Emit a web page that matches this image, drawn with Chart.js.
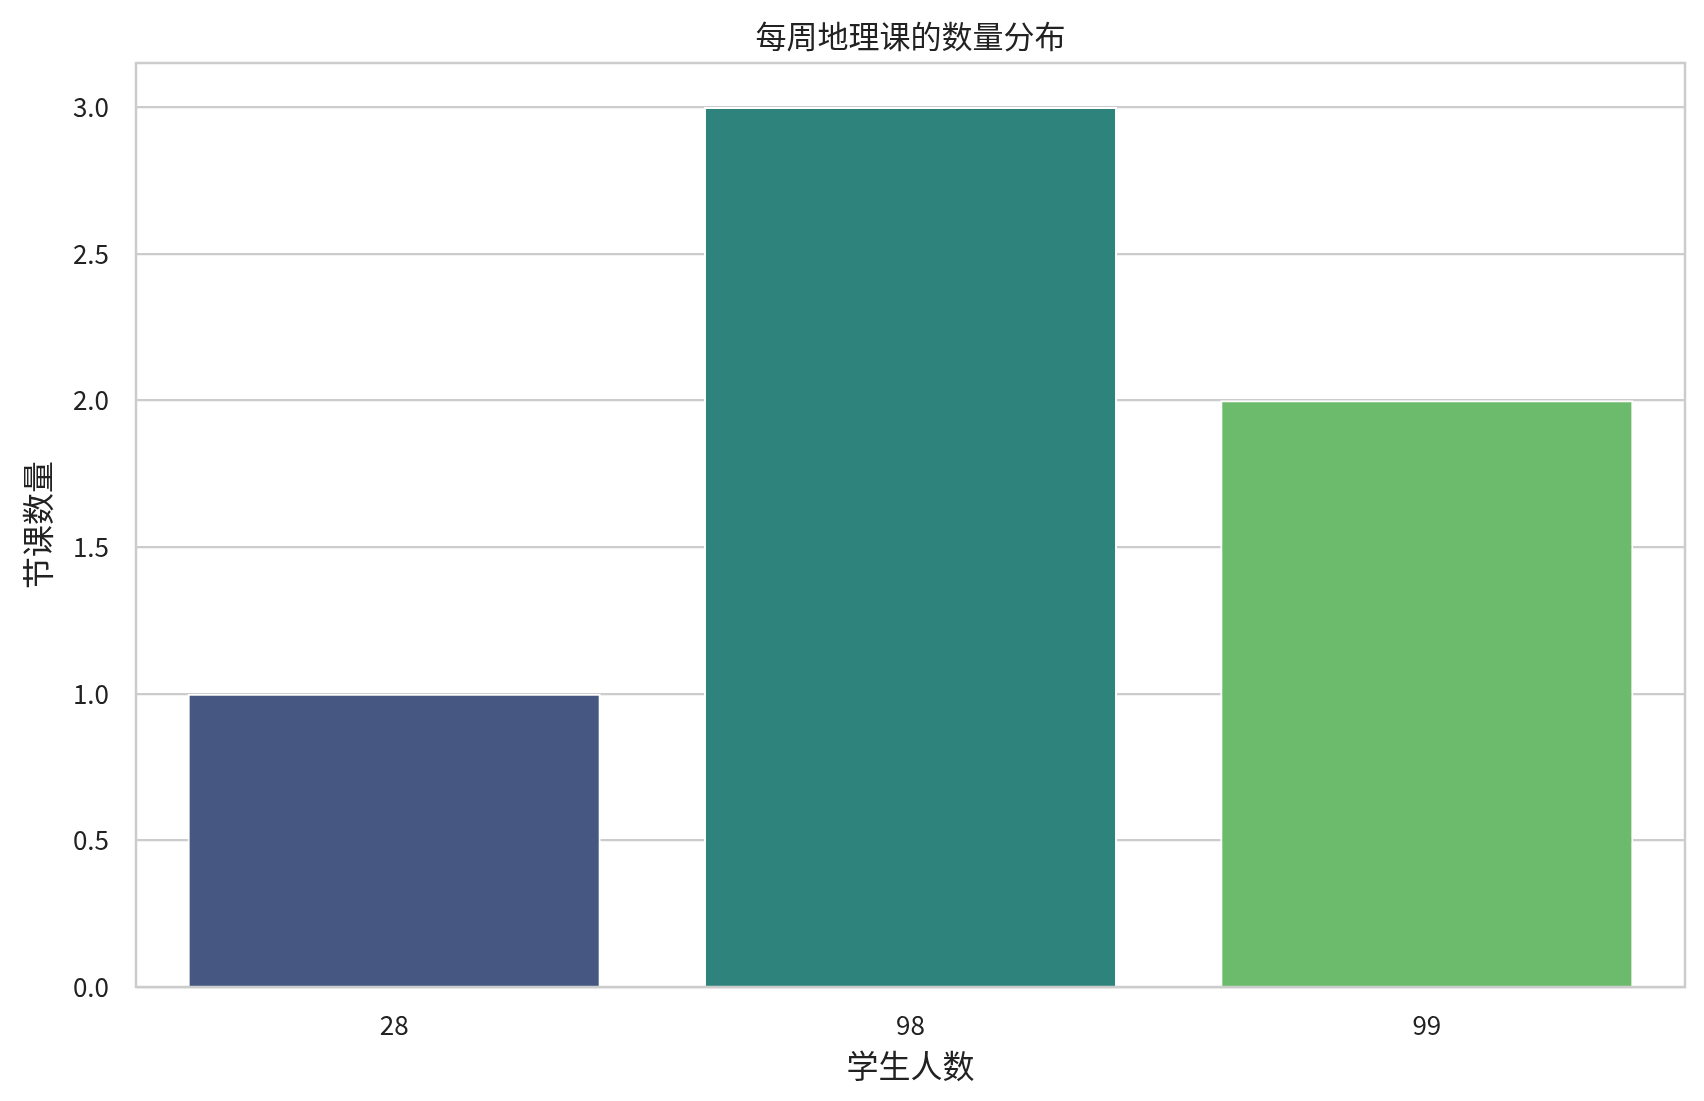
<!DOCTYPE html>
<html>
<head>
  <title>每周地理课的数量分布</title>
  <script src="https://cdn.jsdelivr.net/npm/chart.js"></script>
  <style>
    html, body { margin: 0; padding: 0; background: #fff; }
    #wrap { width: 1704px; height: 1101px; }
  </style>
</head>
<body>
  <div id="wrap"><canvas id="chart"></canvas></div>

  <script>
    // data
    const categories = ['28', '98', '99'];
    const lessonCounts = [1, 3, 2];
    const barColors = ['#465881', '#2e847d', '#6cbb6c'];
    const yTicks = [0, 0.5, 1.0, 1.5, 2.0, 2.5, 3.0];

    const cjk = '"Noto Sans CJK SC", "Noto Sans", sans-serif';

    // light grey box round the plot, like the seaborn spines
    const frame = {
      id: 'frame',
      afterDatasetsDraw(chart) {
        const a = chart.chartArea;
        const ctx = chart.ctx;
        ctx.save();
        ctx.strokeStyle = '#cccccc';
        ctx.lineWidth = 2.5;
        ctx.strokeRect(a.left, a.top, a.right - a.left, a.bottom - a.top);
        ctx.restore();
      }
    };

    new Chart(document.getElementById('chart'), {
      type: 'bar',
      data: {
        labels: categories,
        datasets: [{
          label: '节课数量',
          data: lessonCounts,
          backgroundColor: barColors,
          borderColor: '#ffffff',
          borderWidth: 2,
          borderSkipped: 'bottom',
          categoryPercentage: 0.8,
          barPercentage: 1.0
        }]
      },
      options: {
        responsive: true,
        maintainAspectRatio: false,
        animation: false,
        layout: { padding: { left: 0, right: 19, top: 0, bottom: 0 } },
        plugins: {
          legend: { display: false },
          tooltip: { enabled: false },
          title: {
            display: true,
            fullSize: false,
            text: '每周地理课的数量分布',
            color: '#222222',
            font: { family: cjk, size: 31, weight: 'normal', lineHeight: 1 },
            padding: { top: 21, bottom: 11 }
          }
        },
        scales: {
          x: {
            grid: { display: false, drawTicks: false },
            border: { display: false },
            ticks: {
              color: '#222222',
              padding: 23,
              font: { family: cjk, size: 26 }
            },
            title: {
              display: true,
              text: '学生人数',
              color: '#222222',
              font: { family: cjk, size: 32, lineHeight: 1 },
              padding: { top: 0, bottom: 19 }
            },
            afterFit(scale) { scale.height = 114; }
          },
          y: {
            min: 0,
            max: 3.15,
            grid: { color: '#cccccc', lineWidth: 2.2, drawTicks: false },
            border: { display: false },
            afterBuildTicks(scale) {
              scale.ticks = yTicks.map(v => ({ value: v }));
            },
            ticks: {
              color: '#222222',
              padding: 27,
              font: { family: cjk, size: 26 },
              callback: v => Number(v).toFixed(1)
            },
            title: {
              display: true,
              text: '节课数量',
              color: '#222222',
              font: { family: cjk, size: 32, lineHeight: 1 },
              padding: { top: 22, bottom: 0 }
            },
            afterFit(scale) { scale.width = 136; }
          }
        }
      },
      plugins: [frame]
    });
  </script>
</body>
</html>
